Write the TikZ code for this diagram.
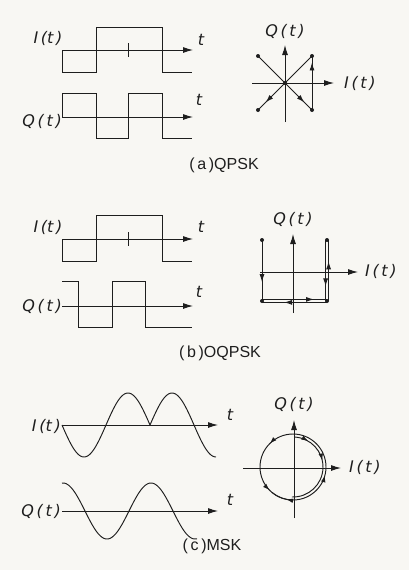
\documentclass[tikz,border=0pt]{standalone}
\usepackage{fontspec}
\setmainfont{Liberation Sans}
\newfontfamily\labfont{DejaVu Sans}
\usetikzlibrary{arrows.meta,decorations.markings}
\definecolor{ink}{RGB}{30,30,30}
\definecolor{paper}{RGB}{248,247,243}
\begin{document}
\begin{tikzpicture}[x=1pt,y=-1pt,
  wave/.style={line width=0.95pt, draw=ink, line join=miter},
  axis/.style={line width=0.95pt, draw=ink, -{Latex[length=10pt,width=6pt]}},
  conn/.style={line width=0.95pt, draw=ink},
  lab/.style={font=\labfont\fontsize{16}{16}\selectfont\itshape, inner sep=0pt, text=ink},
  caplab/.style={font=\fontsize{16}{16}\selectfont, inner sep=0pt, text=ink},
  dot/.style={circle, fill=ink, inner sep=0pt, minimum size=4pt},
  marr/.style={postaction={decorate}, decoration={markings, mark=at position #1 with {\arrow{Latex[length=8pt,width=5pt]}}}},
]
\fill[paper] (0,0) rectangle (409,570);
\useasboundingbox (0,0) rectangle (409,570);

%================ (a) QPSK =================
\node[lab] (aIl) at (48,38) {I\,(t\,)};
\node[lab] (aIt) at (201,40) {t};
\coordinate (aI0) at (62,50); \coordinate (aI1) at (193,50);
\draw[axis] (aI0) -- (aI1);
\draw[wave] (62,50) -- (62,72) -- (96,72) -- (96,27) -- (162,27) -- (162,72) -- (192,72);
\draw[conn] (128,43) -- (128,57);

\node[lab, anchor=east] (aQl) at (62,121) {Q\,(\,t\,)};
\node[lab] (aQt) at (199,100) {t};
\coordinate (aQ0) at (62,117); \coordinate (aQ1) at (193,117);
\draw[axis] (aQ0) -- (aQ1);
\draw[wave] (62,117) -- (62,93) -- (96,93) -- (96,138) -- (128,138) -- (128,93) -- (162,93) -- (162,138) -- (192,138);

% constellation
\coordinate (aC) at (285,83);
\coordinate (aH0) at (252,83); \coordinate (aH1) at (334,83);
\coordinate (aV0) at (285,122); \coordinate (aV1) at (285,45);
\draw[axis] (aH0) -- (aH1);
\draw[axis] (aV0) -- (aV1);
\node[lab] (aQc) at (285,31) {Q\,(\,t\,)};
\node[lab, anchor=west] (aIc) at (344,83) {I\,(\,t\,)};
\node[dot] (aUL) at (258,56) {};
\node[dot] (aUR) at (312,56) {};
\node[dot] (aLL) at (258,110) {};
\node[dot] (aLR) at (312,110) {};
\node[dot] (aO) at (285,83) {};
\draw[conn, marr=0.86] (aUL.center) -- (aLR.center);
\draw[conn, marr=0.88] (aLR.center) -- (aUR.center);
\draw[conn, marr=0.86] (aUR.center) -- (aLL.center);
\node[caplab] (aCap) at (224,165) {(\,a\,)QPSK};

%================ (b) OQPSK =================
\node[lab] (bIl) at (48,227) {I\,(t\,)};
\node[lab] (bIt) at (201,227) {t};
\coordinate (bI0) at (62,239); \coordinate (bI1) at (193,239);
\draw[axis] (bI0) -- (bI1);
\draw[wave] (62,239) -- (62,261) -- (96,261) -- (96,215) -- (162,215) -- (162,261) -- (192,261);
\draw[conn] (128,232) -- (128,246);

\node[lab, anchor=east] (bQl) at (62,306) {Q\,(\,t\,)};
\node[lab] (bQt) at (199,292) {t};
\coordinate (bQ0) at (62,306); \coordinate (bQ1) at (193,306);
\draw[axis] (bQ0) -- (bQ1);
\draw[wave] (62,281) -- (78,281) -- (78,327) -- (112,327) -- (112,281) -- (145,281) -- (145,327) -- (192,327);

% constellation
\coordinate (bH0) at (260,272); \coordinate (bH1) at (358,272);
\coordinate (bV0) at (293,313); \coordinate (bV1) at (293,234);
\draw[axis] (bH0) -- (bH1);
\draw[axis] (bV0) -- (bV1);
\node[lab] (bQc) at (293,219) {Q\,(\,t\,)};
\node[lab, anchor=west] (bIc) at (365,271) {I\,(\,t\,)};
\node[dot] (bUL) at (262,240) {};
\node[dot] (bUR) at (327,240) {};
\node[dot] (bLL) at (262,301) {};
\node[dot] (bLR) at (327,301) {};
\draw[conn, marr=0.69] (bUL.center) -- (bLL.center);
\draw[conn, marr=0.8] ([yshift=1.6pt]bLL.center) -- ([yshift=1.6pt]bLR.center);
\draw[conn, marr=0.65] ([xshift=1.6pt]bLR.center) -- ([xshift=1.6pt]bUR.center);
\draw[conn, marr=0.76] ([xshift=-1.4pt]bUR.center) -- ([xshift=-1.4pt]bLR.center);
\draw[conn, marr=0.66] ([yshift=-1.4pt]bLR.center) -- ([yshift=-1.4pt]bLL.center);
\node[caplab] (bCap) at (220,353) {(\,b\,)OQPSK};

%================ (c) MSK =================
\node[lab, anchor=east] (cIl) at (61,426) {I\,(t\,)};
\node[lab] (cIt) at (230,415) {t};
\coordinate (cI0) at (62,425); \coordinate (cI1) at (218,425);
\draw[axis] (cI0) -- (cI1);
\draw[wave] plot[domain=62:150, samples=80, smooth] (\x, {425 + 32*sin(4.090909*(\x-62))});
\draw[wave] plot[domain=150:216, samples=60, smooth] (\x, {425 - 32*sin(4.090909*(\x-62))});

\node[lab, anchor=east] (cQl) at (61,511) {Q\,(\,t\,)};
\node[lab] (cQt) at (230,500) {t};
\coordinate (cQ0) at (62,511); \coordinate (cQ1) at (218,511);
\draw[axis] (cQ0) -- (cQ1);
\draw[wave] plot[domain=62:197, samples=100, smooth] (\x, {511 - 28*cos(4.090909*(\x-63))});

% phase circle
\coordinate (cC) at (293,467);
\coordinate (cH0) at (243,468); \coordinate (cH1) at (341,468);
\coordinate (cV0) at (294,518); \coordinate (cV1) at (294,420);
\draw[axis] (cH0) -- (cH1);
\draw[axis] (cV0) -- (cV1);
\node[lab] (cQc) at (294,404) {Q\,(\,t\,)};
\node[lab, anchor=west] (cIc) at (349,467) {I\,(\,t\,)};
\draw[conn, postaction={decorate}, decoration={markings,
   mark=at position 0.125 with {\arrow{Latex[length=7pt,width=4.5pt]}},
   mark=at position 0.375 with {\arrow{Latex[length=7pt,width=4.5pt]}},
   mark=at position 0.71 with {\arrow{Latex[length=7pt,width=4.5pt]}}}]
   (cC) ++(-90:33) arc[start angle=-90, end angle=-450, radius=33];
\draw[conn, postaction={decorate}, decoration={markings,
   mark=at position 0.16 with {\arrow{Latex[length=7pt,width=4.5pt]}},
   mark=at position 0.42 with {\arrow{Latex[length=7pt,width=4.5pt]}}}]
   (cC) ++(-88:30) arc[start angle=-88, end angle=92, radius=30];
\draw[conn, postaction={decorate}, decoration={markings,
   mark=at position 0.3 with {\arrow{Latex[length=7pt,width=4.5pt]}}}]
   (cC) ++(90:33) arc[start angle=90, end angle=130, radius=33];
\node[caplab] (cCap) at (212,546) {(\,c\,)MSK};
\end{tikzpicture}
\end{document}
